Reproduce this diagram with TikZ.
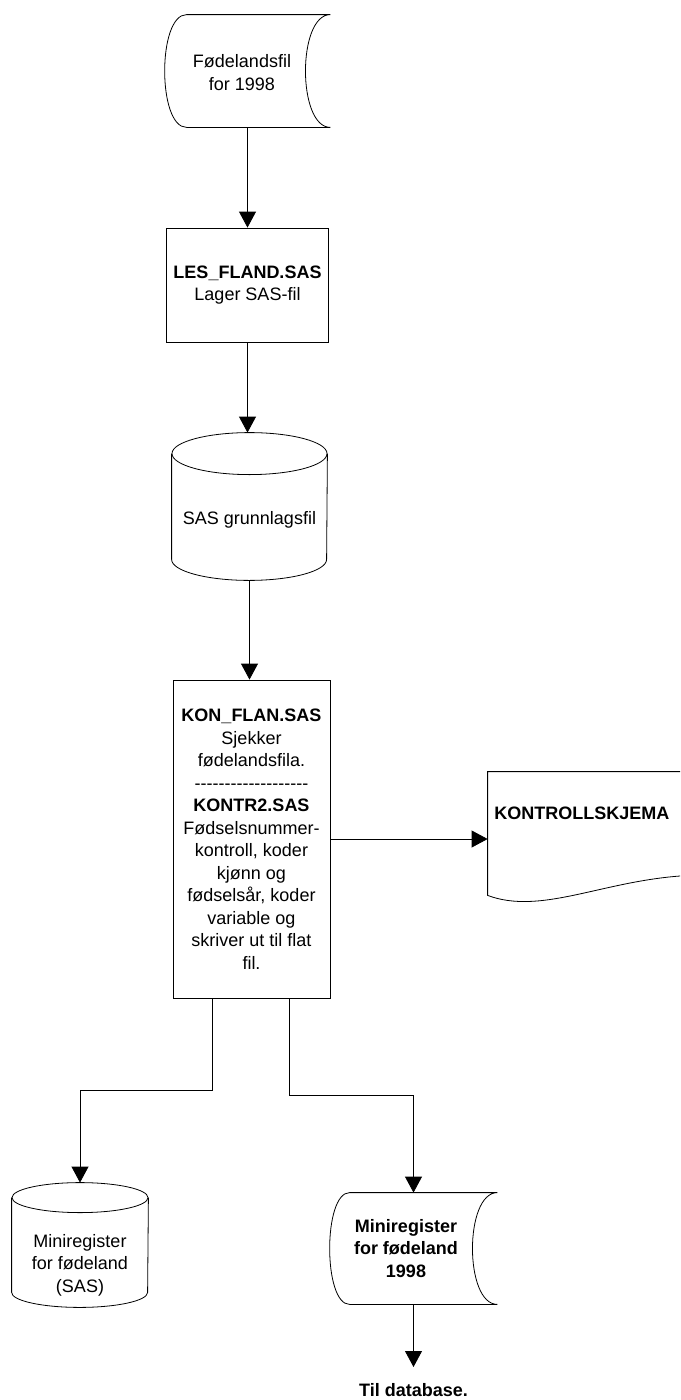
\documentclass[tikz,border=0pt]{standalone}
\usepackage{fontspec}
\setmainfont{Liberation Sans}
\usetikzlibrary{arrows.meta}

\tikzset{
  tekst/.style={font=\fontsize{18}{22.5}\selectfont, align=center, inner sep=0pt},
  fet/.style={tekst, font=\fontsize{18}{22.5}\selectfont\bfseries},
  boks/.style={tekst, draw},
  pil/.style={-{Triangle[length=16pt,width=17pt]}},
}

% lagrede data: node, bue venstre, bue hoyre
\newcommand{\lagret}[3]{%
  \draw ([xshift=#2]#1.north west) -- (#1.north east)
    .. controls ([xshift={-1.33*#3}]#1.north east) and ([xshift={-1.33*#3}]#1.south east) .. (#1.south east)
    -- ([xshift=#2]#1.south west)
    .. controls ([xshift={-0.33*#2}]#1.south west) and ([xshift={-0.33*#2}]#1.north west) .. ([xshift=#2]#1.north west);}
% tonne: node, x-radius, y-radius
\newcommand{\tonne}[3]{%
  \draw ([yshift=-#3]#1.north west) -- ([yshift=#3]#1.south west)
    arc[start angle=180, end angle=360, x radius=#2, y radius=#3]
    -- ([yshift=-#3]#1.north east);
  \draw ([yshift=-#3]#1.north) ellipse [x radius=#2, y radius=#3];}
\newcommand{\strekbit}{-\kern0pt}
\newcommand{\strek}{\strekbit\strekbit\strekbit\strekbit\strekbit\strekbit\strekbit\strekbit\strekbit\strekbit\strekbit\strekbit\strekbit\strekbit\strekbit\strekbit\strekbit\strekbit\strekbit}

\begin{document}
\begin{tikzpicture}[x=1pt, y=-1pt, line width=0.8pt]
  \useasboundingbox (0,0) rectangle (680,1400);
  \clip (0,0) rectangle (680,1400);

  \node[tekst, minimum width=165pt, minimum height=112pt] (fland) at (247.5,71) {};
  \lagret{fland}{22pt}{25pt}
  \node[tekst] (flandtekst) at (242,72.5) {Fødelandsfil\\for 1998};

  \node[boks, minimum width=162pt, minimum height=114pt] (les) at (247.5,285) {\textbf{LES\_FLAND.SAS}\\Lager SAS-fil};

  \node[tekst, minimum width=155pt, minimum height=147pt] (grunn) at (249.5,506.5) {};
  \tonne{grunn}{77.5pt}{21pt}
  \node[tekst] (grunntekst) at (249.5,520) {SAS grunnlagsfil};

  \node[boks, minimum width=157pt, minimum height=318pt] (kontr) at (251.5,839)
    {\textbf{KON\_FLAN.SAS}\\Sjekker\\fødelandsfila.\\\strek\\\textbf{KONTR2.SAS}\\Fødselsnummer-\\kontroll, koder\\kjønn og\\fødselsår, koder\\variable og\\skriver ut til flat\\fil.};

  \node[tekst, minimum width=252pt, minimum height=123pt] (skjema) at (614,833.5) {};
  \draw (skjema.north east) -- (skjema.north west) -- (skjema.south west)
    .. controls (540,915) and (600,882) .. (680,876) -- (720,874);
  \node[fet, anchor=west] (skjematekst) at (494,813) {KONTROLLSKJEMA};

  \node[tekst, minimum width=136pt, minimum height=124pt] (minisas) at (80,1245) {};
  \tonne{minisas}{68pt}{15pt}
  \node[tekst] (minisastekst) at (80,1265) {Miniregister\\for fødeland\\(SAS)};

  \node[tekst, minimum width=167pt, minimum height=111pt] (miniflat) at (413.5,1248.5) {};
  \lagret{miniflat}{20pt}{25pt}
  \node[fet] (miniflattekst) at (406,1248.5) {Miniregister\\for fødeland\\1998};

  \node[fet] (tildb) at (413.5,1390) {Til database.};

  \draw[pil] (fland) -- (les);
  \draw[pil] (les) -- (les |- grunn.north);
  \draw[pil] (grunn) -- (grunn |- kontr.north);
  \draw[pil] (kontr) -- (kontr -| skjema.west);
  \draw[pil] ([xshift=-39.5pt]kontr.south) -- ++(0,92) -| (minisas);
  \draw[pil] ([xshift=37.5pt]kontr.south) -- ++(0,97) -| (miniflat);
  \draw[pil, shorten >=16pt] (miniflat) -- (tildb);
\end{tikzpicture}
\end{document}
